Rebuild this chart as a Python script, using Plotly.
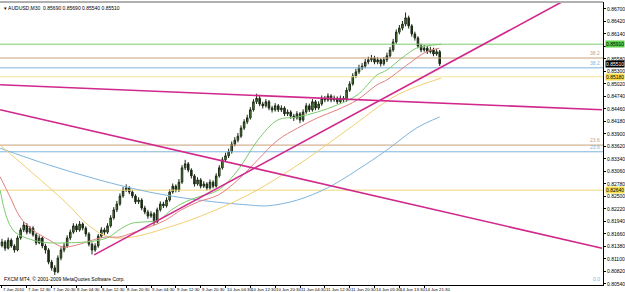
import plotly.graph_objects as go

# ---------------- data ----------------
opens = [0.8140,0.8148,0.8134,0.8152,0.8139,0.8130,0.8157,0.8175,0.8186,0.8170,
0.8179,0.8164,0.8146,0.8157,0.8139,0.8130,0.8103,0.8090,0.8081,0.8112,
0.8130,0.8139,0.8157,0.8170,0.8184,0.8175,0.8188,0.8179,0.8166,0.8143,
0.8130,0.8139,0.8161,0.8175,0.8170,0.8184,0.8202,0.8220,0.8233,0.8251,
0.8264,0.8269,0.8260,0.8251,0.8238,0.8242,0.8224,0.8215,0.8206,0.8211,
0.8193,0.8220,0.8233,0.8229,0.8242,0.8260,0.8273,0.8264,0.8282,0.8314,
0.8323,0.8309,0.8296,0.8278,0.8287,0.8273,0.8278,0.8269,0.8282,0.8273,
0.8296,0.8314,0.8332,0.8341,0.8350,0.8367,0.8376,0.8385,0.8403,0.8417,
0.8426,0.8444,0.8462,0.8470,0.8457,0.8453,0.8462,0.8448,0.8444,0.8453,
0.8444,0.8448,0.8435,0.8439,0.8430,0.8426,0.8435,0.8421,0.8439,0.8453,
0.8444,0.8462,0.8448,0.8457,0.8470,0.8466,0.8475,0.8466,0.8470,0.8462,
0.8470,0.8466,0.8488,0.8502,0.8520,0.8529,0.8538,0.8542,0.8551,0.8556,
0.8560,0.8551,0.8556,0.8547,0.8556,0.8565,0.8578,0.8596,0.8618,0.8627,
0.8636,0.8650,0.8632,0.8614,0.8605,0.8587,0.8578,0.8582,0.8574,0.8578,
0.8569,0.8574]
closes = [0.8148,0.8134,0.8152,0.8139,0.8130,0.8157,0.8175,0.8186,0.8170,0.8179,
0.8164,0.8146,0.8157,0.8139,0.8130,0.8103,0.8090,0.8081,0.8112,0.8130,
0.8139,0.8157,0.8170,0.8184,0.8175,0.8188,0.8179,0.8166,0.8143,0.8130,
0.8139,0.8161,0.8175,0.8170,0.8184,0.8202,0.8220,0.8233,0.8251,0.8264,
0.8269,0.8260,0.8251,0.8238,0.8242,0.8224,0.8215,0.8206,0.8211,0.8193,
0.8220,0.8233,0.8229,0.8242,0.8260,0.8273,0.8264,0.8282,0.8314,0.8323,
0.8309,0.8296,0.8278,0.8287,0.8273,0.8278,0.8269,0.8282,0.8273,0.8296,
0.8314,0.8332,0.8341,0.8350,0.8367,0.8376,0.8385,0.8403,0.8417,0.8426,
0.8444,0.8462,0.8470,0.8457,0.8453,0.8462,0.8448,0.8444,0.8453,0.8444,
0.8448,0.8435,0.8439,0.8430,0.8426,0.8435,0.8421,0.8439,0.8453,0.8444,
0.8462,0.8448,0.8457,0.8470,0.8466,0.8475,0.8466,0.8470,0.8462,0.8470,
0.8466,0.8488,0.8502,0.8520,0.8529,0.8538,0.8542,0.8551,0.8556,0.8560,
0.8551,0.8556,0.8547,0.8556,0.8565,0.8578,0.8596,0.8618,0.8627,0.8636,
0.8650,0.8632,0.8614,0.8605,0.8587,0.8578,0.8582,0.8574,0.8578,0.8569,
0.8574,0.8547]
highs = [0.8155,0.8152,0.8158,0.8156,0.8143,0.8162,0.8180,0.8193,0.8190,0.8184,
0.8183,0.8168,0.8163,0.8160,0.8144,0.8134,0.8108,0.8096,0.8118,0.8136,
0.8146,0.8163,0.8176,0.8190,0.8189,0.8195,0.8192,0.8183,0.8170,0.8147,
0.8145,0.8166,0.8181,0.8180,0.8190,0.8208,0.8226,0.8240,0.8257,0.8271,
0.8277,0.8273,0.8265,0.8255,0.8248,0.8246,0.8229,0.8220,0.8217,0.8215,
0.8225,0.8239,0.8238,0.8248,0.8266,0.8279,0.8277,0.8289,0.8320,0.8332,
0.8327,0.8313,0.8300,0.8293,0.8291,0.8284,0.8282,0.8288,0.8286,0.8302,
0.8320,0.8338,0.8348,0.8357,0.8373,0.8383,0.8392,0.8409,0.8423,0.8433,
0.8450,0.8468,0.8480,0.8475,0.8462,0.8468,0.8466,0.8453,0.8459,0.8457,
0.8454,0.8452,0.8445,0.8443,0.8435,0.8441,0.8439,0.8445,0.8459,0.8458,
0.8468,0.8466,0.8463,0.8476,0.8475,0.8481,0.8479,0.8476,0.8474,0.8476,
0.8475,0.8494,0.8508,0.8526,0.8536,0.8545,0.8549,0.8558,0.8563,0.8567,
0.8565,0.8562,0.8560,0.8562,0.8572,0.8585,0.8603,0.8624,0.8634,0.8643,
0.8662,0.8655,0.8636,0.8619,0.8609,0.8592,0.8589,0.8587,0.8585,0.8583,
0.8580,0.8578]
lows = [0.8136,0.8128,0.8131,0.8135,0.8124,0.8127,0.8153,0.8170,0.8165,0.8166,
0.8160,0.8141,0.8143,0.8134,0.8122,0.8098,0.8084,0.8074,0.8078,0.8107,
0.8125,0.8135,0.8152,0.8166,0.8170,0.8171,0.8174,0.8160,0.8138,0.8120,
0.8126,0.8135,0.8157,0.8164,0.8166,0.8180,0.8198,0.8215,0.8229,0.8247,
0.8260,0.8255,0.8246,0.8233,0.8233,0.8219,0.8210,0.8200,0.8202,0.8186,
0.8190,0.8216,0.8224,0.8225,0.8238,0.8256,0.8259,0.8260,0.8278,0.8309,
0.8304,0.8290,0.8272,0.8274,0.8268,0.8269,0.8263,0.8265,0.8268,0.8270,
0.8292,0.8310,0.8327,0.8336,0.8346,0.8362,0.8371,0.8381,0.8399,0.8412,
0.8422,0.8440,0.8457,0.8452,0.8447,0.8449,0.8443,0.8438,0.8440,0.8439,
0.8439,0.8430,0.8430,0.8424,0.8419,0.8422,0.8414,0.8417,0.8435,0.8439,
0.8440,0.8443,0.8444,0.8453,0.8461,0.8462,0.8461,0.8462,0.8457,0.8458,
0.8461,0.8462,0.8484,0.8498,0.8515,0.8524,0.8533,0.8537,0.8546,0.8551,
0.8546,0.8546,0.8541,0.8543,0.8551,0.8561,0.8574,0.8592,0.8613,0.8622,
0.8631,0.8626,0.8608,0.8599,0.8582,0.8573,0.8574,0.8569,0.8570,0.8564,
0.8565,0.8542]

ma_green_x = [-0.6, 3.5, 10, 15.3, 20.8, 27.2, 31.3, 34.5, 37.7, 41.9, 46.3, 50.5, 54.6, 59.1, 63.3, 69.6, 76.0, 82.4, 88.8, 95.2, 101.6, 108.0, 114.4, 120.8, 124.0, 128.8, 133.5, 136.7, 141.5]
ma_green_y = [0.8264, 0.8175, 0.8152, 0.8146, 0.8146, 0.8148, 0.8152, 0.8159, 0.8175, 0.8190, 0.8193, 0.8197, 0.8220, 0.8238, 0.8249, 0.8264, 0.8309, 0.8376, 0.8421, 0.8428, 0.8439, 0.8455, 0.8477, 0.8522, 0.8533, 0.8560, 0.8582, 0.8587, 0.8591]
ma_red_x = [-0.6, 2.6, 5.8, 9.9, 15.3, 19.5, 24.0, 29.1, 33.5, 37.7, 41.9, 47.3, 52.7, 57.8, 63.3, 69.6, 76.0, 82.4, 88.8, 95.2, 101.6, 108.0, 114.4, 120.8, 124.0, 130.4, 136.7, 140.9]
ma_red_y = [0.8294, 0.8249, 0.8204, 0.8175, 0.8152, 0.8137, 0.8141, 0.8152, 0.8159, 0.8159, 0.8168, 0.8181, 0.8197, 0.8220, 0.8238, 0.8253, 0.8287, 0.8332, 0.8376, 0.8403, 0.8426, 0.8444, 0.8466, 0.8500, 0.8511, 0.8544, 0.8574, 0.8582]
ma_yellow_x = [-0.6, 9.9, 20.8, 28.1, 34.5, 42.0, 53.7, 63.3, 79.2, 95.2, 111.2, 127.2, 141.5]
ma_yellow_y = [0.8365, 0.8302, 0.8235, 0.8184, 0.8159, 0.8159, 0.8181, 0.8204, 0.8253, 0.8320, 0.8399, 0.8477, 0.8515]
ma_blue_x = [-0.6, 15.3, 31.3, 47.3, 63.3, 79.2, 85.6, 95.2, 104.8, 114.4, 124.0, 133.5, 141.0]
ma_blue_y = [0.8358, 0.8320, 0.8287, 0.8260, 0.8242, 0.8231, 0.8229, 0.8242, 0.8269, 0.8309, 0.8354, 0.8403, 0.8428]

# horizontal levels
level_prices = [0.8591, 0.8560, 0.8538, 0.8518, 0.8365, 0.8350, 0.8264]
level_colors = ["#7ccc6c", "#c8a078", "#7fb4dc", "#f2e69a", "#c8a078", "#7fb4dc", "#f2d878"]

# trend lines (bar index, price)
trend_lines = [
    ((-0.6, 0.8500), (193.3, 0.8444)),
    ((-0.6, 0.8444), (193.3, 0.8134)),
    ((29.7, 0.8119), (181.5, 0.8690)),
]

# axis ticks (the 0.85860 label is hidden under the green price tag)
y_ticks = [0.86700,0.86420,0.86140,0.85860,0.85580,0.85300,0.85020,0.84740,0.84460,
           0.84180,0.83900,0.83620,0.83340,0.83060,0.82780,0.82500,0.82220,0.81940,
           0.81660,0.81380,0.81100,0.80820,0.80540]
y_ticks_hidden = [0.85860]
x_tick_bars = [0, 8, 16, 24, 32, 40, 48, 56, 64, 72, 80, 88, 96, 104, 112, 120, 128, 136]
x_tick_labels = ["7 Jun 2010", "7 Jun 12:30", "7 Jun 20:30", "8 Jun 04:30", "8 Jun 12:30",
                 "8 Jun 20:30", "9 Jun 04:30", "9 Jun 12:30", "9 Jun 20:30", "10 Jun 04:30",
                 "10 Jun 12:30", "10 Jun 20:30", "11 Jun 04:30", "11 Jun 12:30", "11 Jun 20:30",
                 "14 Jun 05:30", "14 Jun 13:30", "14 Jun 21:30"]

header = "AUDUSD,M30  0.85690 0.85690 0.85540 0.85510"
footer = "FXCM MT4, © 2001-2009 MetaQuotes Software Corp."

X0, X1 = -0.64, 193.6
Y0, Y1 = 0.80516, 0.86855
FONT = "Liberation Sans"
FS = 5
FSX = 4.3

fig = go.Figure()

for p, c in zip(level_prices, level_colors):
    fig.add_trace(go.Scatter(x=[X0, X1], y=[p, p], mode="lines",
                             line=dict(color=c, width=1), hoverinfo="skip", showlegend=False))

fig.add_trace(go.Scatter(x=ma_blue_x, y=ma_blue_y, mode="lines", line=dict(color="#7fb4dc", width=1, shape="spline"), showlegend=False))
fig.add_trace(go.Scatter(x=ma_yellow_x, y=ma_yellow_y, mode="lines", line=dict(color="#f0d070", width=1, shape="spline"), showlegend=False))
fig.add_trace(go.Scatter(x=ma_red_x, y=ma_red_y, mode="lines", line=dict(color="#e08080", width=1, shape="spline"), showlegend=False))
fig.add_trace(go.Scatter(x=ma_green_x, y=ma_green_y, mode="lines", line=dict(color="#7ccc6c", width=1, shape="spline"), showlegend=False))

fig.add_trace(go.Candlestick(
    x=list(range(len(closes))), open=opens, high=highs, low=lows, close=closes,
    increasing=dict(line=dict(color="#1c2a14", width=1), fillcolor="#5a9a3a"),
    decreasing=dict(line=dict(color="#1c2a14", width=1), fillcolor="#1c2a14"),
    whiskerwidth=0, showlegend=False))

for (xa, ya), (xb, yb) in trend_lines:
    fig.add_trace(go.Scatter(x=[xa, xb], y=[ya, yb], mode="lines",
                             line=dict(color="#d0288c", width=1.6), showlegend=False))

annotations = []
for b, t in zip(x_tick_bars, x_tick_labels):
    annotations.append(dict(x=b, y=0, xref="x", yref="paper", text=t, showarrow=False,
                            xanchor="left", yanchor="top", yshift=0, xshift=-1,
                            font=dict(size=FSX, family=FONT, color="#000")))
annotations.append(dict(x=0.003, y=1.0, xref="paper", yref="paper", text="▾ " + header,
                        showarrow=False, xanchor="left", yanchor="top", yshift=-1,
                        font=dict(size=FS, family=FONT, color="#000")))
annotations.append(dict(x=0.003, y=0.0, xref="paper", yref="paper", text=footer,
                        showarrow=False, xanchor="left", yanchor="bottom", yshift=1,
                        font=dict(size=FS, family=FONT, color="#000")))
# level price tags on the right axis
tags = [(0.8591, "0.85910", "#5ad24a", "#000"), (0.8547, "0.85510", "#000", "#fff"),
        (0.8518, "0.85180", "#f8e050", "#000"), (0.8264, "0.82640", "#f8e050", "#000")]
for p, t, bg, fc in tags:
    annotations.append(dict(x=1.0, y=p, xref="paper", yref="y", text=t, showarrow=False,
                            xanchor="left", xshift=2, bgcolor=bg, borderpad=0,
                            font=dict(size=FS, family=FONT, color=fc)))
fib = [(0.8560, "38.2", "#c8a078"), (0.8538, "38.2", "#7fb4dc"),
       (0.8365, "23.6", "#c8a078"), (0.8350, "23.6", "#7fb4dc"), (0.8054, "0.0", "#7fb4dc")]
for p, t, c in fib:
    annotations.append(dict(x=1.0, y=p, xref="paper", yref="y", text=t, showarrow=False,
                            xanchor="right", yanchor="bottom", xshift=-1,
                            font=dict(size=FS, family=FONT, color=c)))

fig.update_layout(
    width=625, height=292, margin=dict(l=0, r=17, t=2, b=7),
    paper_bgcolor="white", plot_bgcolor="white",
    font=dict(family=FONT, size=FS, color="#000"),
    showlegend=False, annotations=annotations,
    xaxis=dict(range=[X0, X1], tickvals=x_tick_bars, ticktext=[""] * len(x_tick_bars),
               ticks="outside", ticklen=2, tickcolor="#000", showgrid=False, zeroline=False,
               showline=True, linecolor="#000", linewidth=1, rangeslider=dict(visible=False),
               fixedrange=True),
    yaxis=dict(range=[Y0, Y1], side="right", tickvals=y_ticks,
               ticktext=["" if v in y_ticks_hidden else f"{v:.5f}" for v in y_ticks],
               ticks="outside", ticklen=2,
               tickcolor="#000", showgrid=False, zeroline=False, showline=True,
               linecolor="#000", linewidth=1, tickfont=dict(size=FS, family=FONT)),
)
fig.add_shape(type="line", xref="paper", yref="paper", x0=0, x1=1, y0=1, y1=1,
              line=dict(color="#b0b0b0", width=2))

fig.write_html("out.html")
